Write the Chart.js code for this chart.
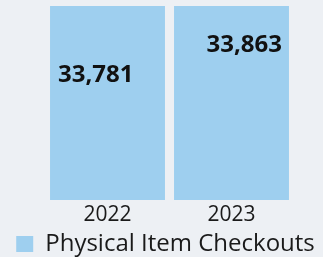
<!DOCTYPE html>
<html>
<head>
<meta charset="utf-8">
<script src="https://cdn.jsdelivr.net/npm/chart.js@4.4.1/dist/chart.umd.min.js"></script>
<style>
  html, body { margin: 0; padding: 0; background: #edf0f4; }
  #wrap { width: 323px; height: 257px; }
</style>
</head>
<body>
<div id="wrap"><canvas id="Checkouts"></canvas></div>
<script>
var years = ["2022", "2023"];
var checkouts = [33781, 33863];
var seriesName = "Physical Item Checkouts";

// draws the value labels inside the bars, positioned on the hidden "labelAxis"
var barLabels = {
    id: 'barLabels',
    afterDatasetsDraw: function (chart) {
        var ctx = chart.ctx;
        var meta = chart.getDatasetMeta(0);
        var scale = chart.scales.labelAxis;
        ctx.save();
        ctx.font = "bold 24px 'Open Sans'";
        ctx.fillStyle = "#111111";
        ctx.textBaseline = "middle";
        meta.data.forEach(function (bar, i) {
            var v = chart.data.datasets[0].data[i];
            var y = scale.getPixelForValue(v);
            var half = bar.width / 2;
            if (i === 0) {
                ctx.textAlign = "left";
                ctx.fillText(v.toLocaleString("en-US"), bar.x - half + 8, y);
            } else {
                ctx.textAlign = "right";
                ctx.fillText(v.toLocaleString("en-US"), bar.x + half - 7, y);
            }
        });
        ctx.restore();
    }
};

new Chart(document.getElementById('Checkouts'), {
    type: 'bar',
    data: {
        labels: years,
        datasets: [
            {
                label: seriesName,
                backgroundColor: "#9ecfef",
                data: checkouts,
                barPercentage: 1,
                categoryPercentage: 0.927
            }
        ]
    },
    options: {
        responsive: true,
        maintainAspectRatio: false,
        animation: false,
        layout: { padding: { top: 6, left: 8, bottom: -9 } },
        scales: {
            x: {
                grid: { display: false },
                border: { display: false },
                ticks: { color: "#1a1a1a", font: { family: "'Open Sans'", size: 21 }, padding: -6 },
                afterFit: function (s) { s.height = 32; }
            },
            y: {
                min: 0,
                max: 33781,
                grid: { display: false },
                border: { display: false },
                ticks: { display: false },
                afterFit: function (s) { s.width = 37.5; }
            },
            labelAxis: {
                position: 'right',
                min: 33440,
                max: 33970,
                grid: { display: false },
                border: { display: false },
                ticks: { display: false },
                afterFit: function (s) { s.width = 29.5; }
            }
        },
        plugins: {
            legend: {
                display: true,
                position: 'bottom',
                labels: {
                    boxWidth: 17,
                    boxHeight: 16,
                    color: "#1a1a1a",
                    font: { family: "'Open Sans'", size: 24 },
                    padding: 0
                }
            },
            tooltip: { enabled: false }
        }
    },
    plugins: [barLabels]
});
</script>
</body>
</html>
